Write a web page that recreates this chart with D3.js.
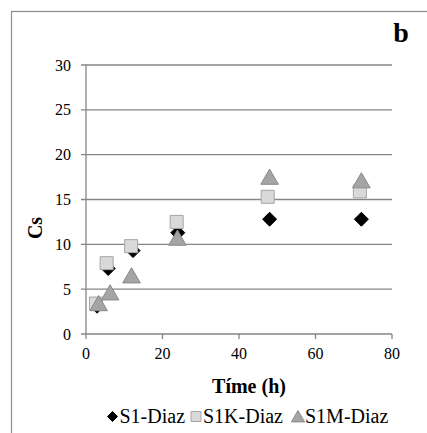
<!DOCTYPE html>
<html>
<head>
<meta charset="utf-8">
<script src="https://cdn.jsdelivr.net/npm/d3@7"></script>
<style>
  body { margin: 0; background: #fff; }
</style>
</head>
<body>
<script>
// values
const timeS1 = [2.9, 5.8, 12.3, 24, 48, 72];
const s1 = [3.1, 7.3, 9.3, 11.3, 12.8, 12.8];
const timeS1K = [2.6, 5.4, 11.8, 23.7, 47.5, 71.6];
const s1k = [3.4, 7.9, 9.8, 12.5, 15.3, 15.9];
const timeS1M = [3.3, 6.3, 11.9, 23.9, 48, 72];
const s1m = [3.4, 4.6, 6.5, 10.7, 17.5, 17.1];
const xTicks = [0, 20, 40, 60, 80];
const yTicks = [0, 5, 10, 15, 20, 25, 30];
const seriesNames = ['S1-Diaz', 'S1K-Diaz', 'S1M-Diaz'];

const width = 427;
const height = 433;
const gridColor = '#868686';
const font = '"Liberation Serif", "DejaVu Serif", serif';

const svg = d3.select('body')
    .append('svg')
    .attr('width', width)
    .attr('height', height)
    .attr('font-family', font);

// outer frame
svg.append('rect')
    .attr('x', 11.5)
    .attr('y', 11.5)
    .attr('width', 440)
    .attr('height', 440)
    .attr('fill', 'none')
    .attr('stroke', '#8c8c8c')
    .attr('stroke-width', 1.2);

const xScale = d3.scaleLinear()
    .domain([0, 80])
    .range([86, 392]);

const yScale = d3.scaleLinear()
    .domain([0, 30])
    .range([334, 65]);

// horizontal gridlines
svg.append('g')
    .selectAll('line')
    .data(yTicks)
    .enter()
    .append('line')
    .attr('x1', xScale(0) - 5)
    .attr('x2', xScale(80))
    .attr('y1', d => yScale(d))
    .attr('y2', d => yScale(d))
    .attr('stroke', gridColor)
    .attr('stroke-width', 1.3);

// y axis line
svg.append('line')
    .attr('x1', xScale(0))
    .attr('x2', xScale(0))
    .attr('y1', yScale(30))
    .attr('y2', yScale(0))
    .attr('stroke', gridColor)
    .attr('stroke-width', 1.3);

// x ticks
svg.append('g')
    .selectAll('line')
    .data(xTicks)
    .enter()
    .append('line')
    .attr('x1', d => xScale(d))
    .attr('x2', d => xScale(d))
    .attr('y1', yScale(0))
    .attr('y2', yScale(0) + 5)
    .attr('stroke', gridColor)
    .attr('stroke-width', 1.3);

svg.append('g')
    .selectAll('text')
    .data(yTicks)
    .enter()
    .append('text')
    .attr('x', 71)
    .attr('y', d => yScale(d) + 5.5)
    .attr('text-anchor', 'end')
    .attr('font-size', 16)
    .text(d => d);

svg.append('g')
    .selectAll('text')
    .data(xTicks)
    .enter()
    .append('text')
    .attr('x', d => xScale(d))
    .attr('y', 359)
    .attr('text-anchor', 'middle')
    .attr('font-size', 16)
    .text(d => d);

// titles
svg.append('text')
    .attr('x', 249)
    .attr('y', 393)
    .attr('text-anchor', 'middle')
    .attr('font-size', 20)
    .attr('font-weight', 'bold')
    .text('Tíme (h)');

svg.append('text')
    .attr('transform', 'translate(42, 228) rotate(-90)')
    .attr('text-anchor', 'middle')
    .attr('font-size', 20)
    .attr('font-weight', 'bold')
    .text('Cs');

svg.append('text')
    .attr('x', 401)
    .attr('y', 42)
    .attr('text-anchor', 'middle')
    .attr('font-size', 28)
    .attr('font-weight', 'bold')
    .text('b');

// marker shapes
const diamond = s => `M0,${-s}L${s},0L0,${s}L${-s},0Z`;
const square = s => `M${-s},${-s}H${s}V${s}H${-s}Z`;
const triangle = s => `M0,${-s}L${s * 1.1},${s * 0.9}H${-s * 1.1}Z`;

const series = [
    { xs: timeS1, ys: s1, shape: diamond, size: 7, fill: '#000', stroke: '#000' },
    { xs: timeS1K, ys: s1k, shape: square, size: 6.5, fill: '#d9d9d9', stroke: '#a6a6a6' },
    { xs: timeS1M, ys: s1m, shape: triangle, size: 8, fill: '#a5a5a5', stroke: '#8a8a8a' }
];

series.forEach(s => {
    svg.append('g')
        .selectAll('path')
        .data(s.ys)
        .enter()
        .append('path')
        .attr('transform', (d, i) => `translate(${xScale(s.xs[i])}, ${yScale(d)})`)
        .attr('d', s.shape(s.size))
        .attr('fill', s.fill)
        .attr('stroke', s.stroke)
        .attr('stroke-width', 1);
});

// legend
const legendX = [112.5, 196, 298];
const legend = svg.append('g');
series.forEach((s, i) => {
    legend.append('path')
        .attr('transform', `translate(${legendX[i]}, 416.5)`)
        .attr('d', s.shape(i === 2 ? 6 : 5))
        .attr('fill', s.fill)
        .attr('stroke', s.stroke)
        .attr('stroke-width', 1);
    legend.append('text')
        .attr('x', legendX[i] + (i === 2 ? 7 : 7))
        .attr('y', 423)
        .attr('font-size', 20)
        .text(seriesNames[i]);
});
</script>
</body>
</html>
